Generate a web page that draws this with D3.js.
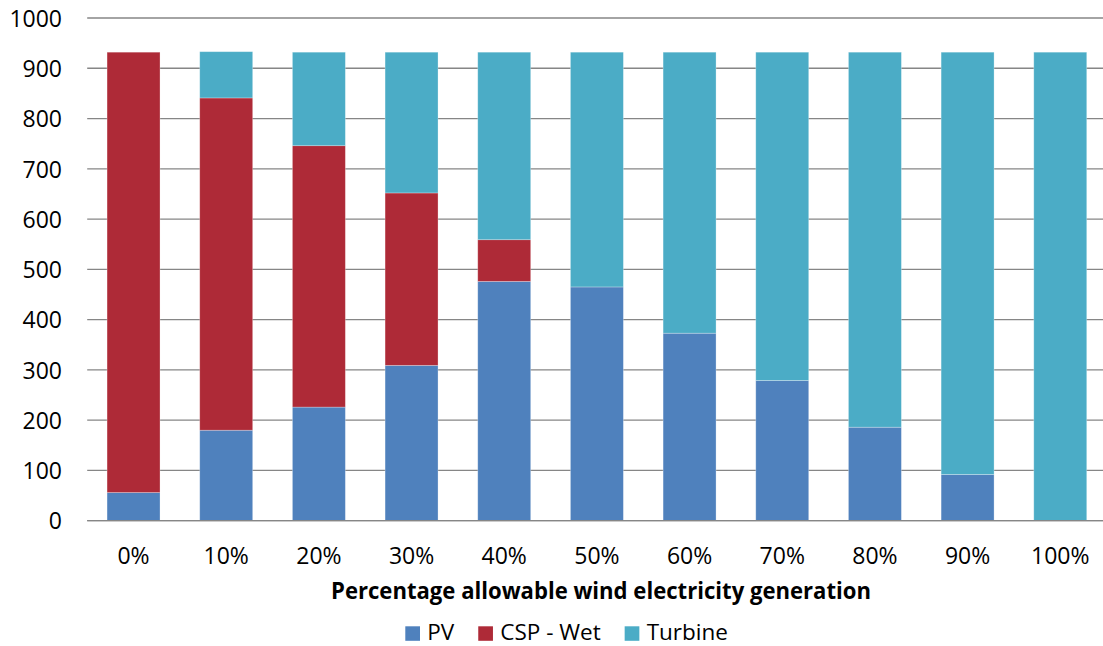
<!DOCTYPE html>
<html>
<head>
<meta charset="utf-8">
<script src="https://cdn.jsdelivr.net/npm/d3@7"></script>
<style>
  html, body { margin: 0; padding: 0; background: #fff; }
  svg { display: block; }
  text { font-family: "Open Sans", "Noto Sans", sans-serif; fill: #000; }
</style>
</head>
<body>
<svg id="chart" width="1103" height="646"></svg>
<script>
// Share of wind electricity allowed
const categories = ["0%", "10%", "20%", "30%", "40%", "50%", "60%", "70%", "80%", "90%", "100%"];
// Stacked series values
const pv      = [56, 180, 226, 309, 476, 465, 373, 279, 186, 92, 0];
const cspWet  = [876, 661, 520, 343, 83, 0, 0, 0, 0, 0, 0];
const turbine = [0, 92, 186, 280, 373, 467, 559, 653, 746, 840, 932];
const seriesNames = ["PV", "CSP - Wet", "Turbine"];
const yTicks = [0, 100, 200, 300, 400, 500, 600, 700, 800, 900, 1000];
const axisTitle = "Percentage allowable wind electricity generation";

const colors = { "PV": "#4F81BD", "CSP - Wet": "#AE2A37", "Turbine": "#4BACC6" };

const svg = d3.select("#chart");
const plotLeft = 87.2, plotRight = 1106.6, plotTop = 18, plotBottom = 520.7;

const x = d3.scaleBand().domain(categories).range([plotLeft, plotRight]).paddingInner(0.4286).paddingOuter(0.2143);
const y = d3.scaleLinear().domain([0, 1000]).range([plotBottom, plotTop]);

const rows = categories.map((c, i) => ({ cat: c, "PV": pv[i], "CSP - Wet": cspWet[i], "Turbine": turbine[i] }));
const stacked = d3.stack().keys(seriesNames)(rows);

// Horizontal gridlines
svg.append("g")
  .selectAll("line")
  .data(yTicks)
  .join("line")
  .attr("x1", plotLeft).attr("x2", 1103)
  .attr("y1", d => y(d)).attr("y2", d => y(d))
  .attr("stroke", "#868686").attr("stroke-width", 1.3);

// Y axis labels
const yAxis = d3.axisLeft(y).tickValues(yTicks).tickFormat(d3.format("d")).tickSize(0).tickPadding(0);
const yg = svg.append("g").attr("transform", `translate(62,0)`).call(yAxis);
yg.select(".domain").remove();
yg.selectAll("text")
  .attr("font-family", "Open Sans")
  .attr("font-size", 23)
  .attr("fill", "#000")
  .attr("dy", "0.36em");

// Stacked bars
svg.append("g")
  .selectAll("g")
  .data(stacked)
  .join("g")
  .attr("fill", d => colors[d.key])
  .selectAll("rect")
  .data(d => d)
  .join("rect")
  .attr("x", d => x(d.data.cat))
  .attr("width", x.bandwidth())
  .attr("y", d => y(d[1]))
  .attr("height", d => y(d[0]) - y(d[1]))
  .attr("stroke", "rgba(255,255,255,0.35)")
  .attr("stroke-width", 0.8);

// Baseline
svg.append("line")
  .attr("x1", plotLeft).attr("x2", 1103)
  .attr("y1", y(0)).attr("y2", y(0))
  .attr("stroke", "#868686").attr("stroke-width", 1.3);

// X axis labels
const xAxis = d3.axisBottom(x).tickSize(0).tickPadding(0);
const xg = svg.append("g").attr("transform", `translate(0,564)`).call(xAxis);
xg.select(".domain").remove();
xg.selectAll("text")
  .attr("font-family", "Open Sans")
  .attr("font-size", 23)
  .attr("fill", "#000")
  .attr("dy", 0)
  .attr("y", 0);

// Axis title
const title = svg.append("text")
  .attr("x", 331).attr("y", 599)
  .attr("font-size", 23)
  .attr("font-weight", "bold")
  .text(axisTitle);
const tl = title.node().getComputedTextLength();
if (Math.abs(tl - 540) > 3) title.attr("textLength", 540).attr("lengthAdjust", "spacingAndGlyphs");

// Legend
const legend = svg.append("g");
let lx = 405.3;
seriesNames.forEach(name => {
  legend.append("rect")
    .attr("x", lx).attr("y", 626.3)
    .attr("width", 14.7).attr("height", 14.5)
    .attr("fill", colors[name]);
  const t = legend.append("text")
    .attr("x", lx + 22).attr("y", 640.3)
    .attr("font-size", 22.5)
    .text(name);
  lx += 22 + t.node().getComputedTextLength() + 24;
});
</script>
</body>
</html>
